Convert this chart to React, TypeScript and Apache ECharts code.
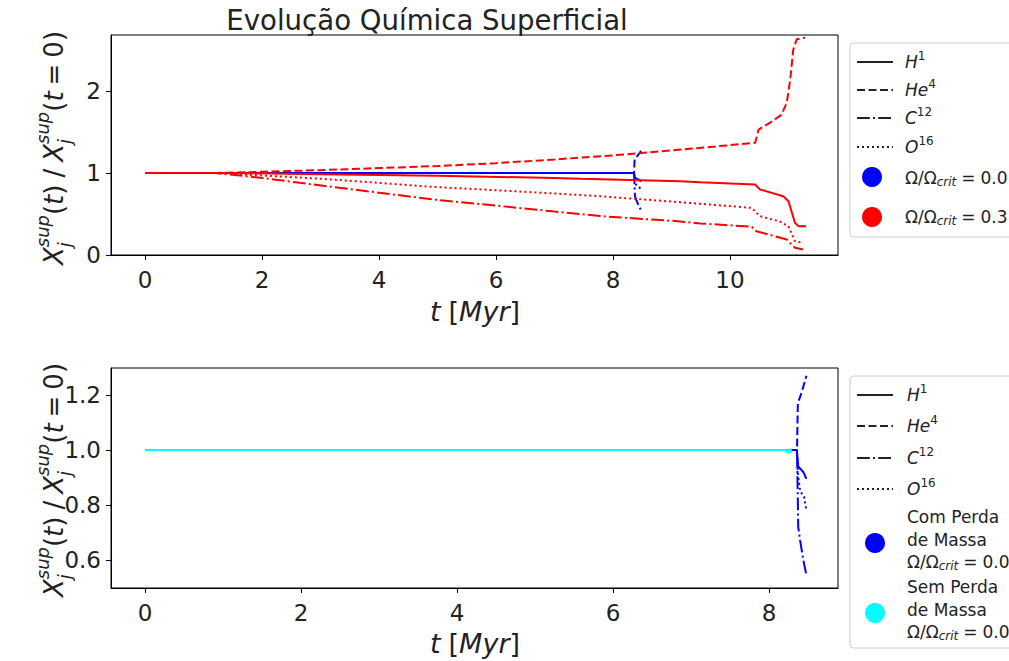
import React, { useEffect, useRef } from "react";
import * as echarts from "echarts";

// ---------- texts / ticks ----------
const TITLE = "Evolução Química Superficial";
const TOP_X_TICKS = [0, 2, 4, 6, 8, 10];
const TOP_Y_TICKS = [0, 1, 2];
const BOT_X_TICKS = [0, 2, 4, 6, 8];
const BOT_Y_TICKS = [0.6, 0.8, 1.0, 1.2];

// ---------- Ω/Ωcrit = 0.3 (red, top panel) ----------
const redH1T = [0, 1.5, 3, 5, 7, 7.44, 9.15, 9.49, 10.43, 10.51, 10.91, 11.0, 11.11, 11.17, 11.3];
const redH1V = [1, 1, 0.985, 0.965, 0.94, 0.93, 0.9, 0.888, 0.86, 0.8, 0.717, 0.656, 0.393, 0.352, 0.35];
const redHe4T = [0, 1.2, 2, 3, 4, 5, 6, 7, 8, 9, 10, 10.43, 10.49, 10.7, 10.88, 10.97, 11.03, 11.08, 11.14, 11.28];
const redHe4V = [1, 1, 1.015, 1.035, 1.06, 1.085, 1.12, 1.165, 1.215, 1.275, 1.34, 1.368, 1.53, 1.62, 1.71, 1.856, 2.14, 2.5, 2.63, 2.65];
const redC12T = [0, 1.2, 2, 2.65, 4, 4.93, 6.1, 7, 7.78, 8.5, 9.15, 9.49, 10.37, 10.45, 10.97, 11.11, 11.25];
const redC12V = [1, 1, 0.94, 0.88, 0.76, 0.677, 0.595, 0.53, 0.475, 0.44, 0.41, 0.385, 0.345, 0.29, 0.19, 0.088, 0.067];
const redO16T = [0, 1.2, 2, 3, 4, 4.93, 6, 7, 7.78, 9.15, 10.37, 10.51, 10.85, 11.0, 11.11, 11.25];
const redO16V = [1, 1, 0.97, 0.93, 0.88, 0.83, 0.79, 0.75, 0.717, 0.644, 0.575, 0.473, 0.41, 0.35, 0.168, 0.149];

// ---------- Ω/Ωcrit = 0.0 with mass loss (blue, both panels) ----------
const blueH1T = [0, 8.355, 8.375, 8.44, 8.48];
const blueH1V = [1, 1, 0.94, 0.92, 0.895];
const blueHe4T = [0, 8.36, 8.365, 8.37, 8.42, 8.48];
const blueHe4V = [1, 1, 1.09, 1.17, 1.21, 1.27];
const blueC12T = [0, 8.36, 8.375, 8.4, 8.44, 8.48];
const blueC12V = [1, 1, 0.72, 0.67, 0.6, 0.545];
const blueO16T = [0, 8.36, 8.37, 8.4, 8.45, 8.48];
const blueO16V = [1, 1, 0.915, 0.85, 0.83, 0.78];

// ---------- Ω/Ωcrit = 0.0 without mass loss (cyan, bottom panel) ----------
const cyanH1T = [0, 8.2, 8.23, 8.26, 8.29];
const cyanH1V = [1, 1, 0.992, 0.99, 0.995];
const cyanHe4T = [0, 8.2, 8.29];
const cyanHe4V = [1, 1, 1.002];
const cyanC12T = [0, 8.2, 8.29];
const cyanC12V = [1, 1, 0.998];
const cyanO16T = [0, 8.2, 8.29];
const cyanO16V = [1, 1, 0.999];

// ---------- styles ----------
const FF = '"DejaVu Sans"';
const TXT = "#222";
const RED = "#ff0000";
const BLUE = "#0000ff";
const CYAN = "#00ffff";
const DASH: any = {
  solid: "solid",
  dashed: [8, 3.5],
  dashdot: [12.8, 3.2, 2, 3.2],
  dotted: [2, 3],
};

function line(T: number[], V: number[], color: string, dash: any, idx: number, z: number) {
  return {
    type: "line",
    xAxisIndex: idx,
    yAxisIndex: idx,
    data: T.map((t, i) => [t, V[i]]),
    showSymbol: false,
    symbol: "none",
    silent: true,
    z,
    lineStyle: { color, width: 2, type: dash },
  };
}

// text measuring for composed math-like labels
let _ctx: CanvasRenderingContext2D | null = null;
function tw(text: string, font: string) {
  if (!_ctx) _ctx = document.createElement("canvas").getContext("2d");
  _ctx!.font = font;
  return _ctx!.measureText(text).width;
}
type P = { t?: string; f?: string; dy?: number; gap?: number };
type Item = P | P[];
function compose(items: Item[], color: string, center: boolean) {
  let u = 0;
  const out: any[] = [];
  for (const it of items) {
    const arr = Array.isArray(it) ? it : [it];
    let w = 0;
    for (const p of arr) {
      if (p.gap) {
        w = Math.max(w, p.gap);
        continue;
      }
      out.push({
        type: "text",
        x: u,
        y: p.dy || 0,
        silent: true,
        style: {
          text: p.t,
          font: p.f,
          fill: color,
          textAlign: "left",
          textVerticalAlign: "middle",
          align: "left",
          verticalAlign: "middle",
        },
      });
      w = Math.max(w, tw(p.t!, p.f!));
    }
    u += w;
  }
  if (center) out.forEach((o) => (o.x -= u / 2));
  return out;
}

const n = (s: number) => `${s}px ${FF}`;
const it = (s: number) => `italic ${s}px ${FF}`;

function yLabelItems(): Item[] {
  const M = 26;
  const S = 18;
  const stack: P[] = [
    { t: "j", f: it(S), dy: 10 },
    { t: "sup", f: it(S), dy: -12 },
  ];
  return [
    { t: "X", f: it(M) },
    stack,
    { t: "(", f: n(M) },
    { t: "t", f: it(M) },
    { t: ")", f: n(M) },
    { gap: 7 },
    { t: "/", f: n(M) },
    { gap: 7 },
    { t: "X", f: it(M) },
    stack,
    { t: "(", f: n(M) },
    { t: "t", f: it(M) },
    { gap: 6 },
    { t: "=", f: n(M) },
    { gap: 6 },
    { t: "0", f: n(M) },
    { t: ")", f: n(M) },
  ];
}
function xLabelItems(): Item[] {
  const M = 27;
  return [
    { t: "t", f: it(M) },
    { gap: 8 },
    { t: "[", f: n(M) },
    { t: "Myr", f: it(M) },
    { t: "]", f: n(M) },
  ];
}
const LS = 17;
function specLabel(base: string, sup: string): Item[] {
  return [
    { t: base, f: it(LS) },
    { t: sup, f: n(12), dy: -6 },
  ];
}
function omegaLabel(val: string): Item[] {
  return [
    { t: "Ω/Ω", f: n(LS) },
    { t: "crit", f: it(12), dy: 4 },
    { gap: 5 },
    { t: "=", f: n(LS) },
    { gap: 5 },
    { t: val, f: n(LS) },
  ];
}

function legendLine(x1: number, x2: number, y: number, dash: any) {
  return {
    type: "line",
    silent: true,
    shape: { x1, y1: y, x2, y2: y },
    style: { stroke: "#222", lineWidth: 2, lineDash: dash === "solid" ? null : dash },
  };
}
function textGroup(x: number, y: number, items: Item[], center = false, rotation = 0) {
  return { type: "group", x, y, rotation, silent: true, children: compose(items, TXT, center) };
}

function buildOption() {
  const lx1 = 857;
  const lx2 = 893;
  const tx = 905;
  const species: [string, string, any][] = [
    ["H", "1", DASH.solid],
    ["He", "4", DASH.dashed],
    ["C", "12", DASH.dashdot],
    ["O", "16", DASH.dotted],
  ];
  const topRows = [62, 90, 118, 147];
  const botRows = [395, 426, 458, 489];

  const graphic: any[] = [
    {
      type: "text",
      x: 427,
      y: 20,
      silent: true,
      style: {
        text: TITLE,
        font: n(27.6),
        fill: TXT,
        textAlign: "center",
        textVerticalAlign: "middle",
        align: "center",
        verticalAlign: "middle",
      },
    },
    textGroup(54, 148, yLabelItems(), true, Math.PI / 2),
    textGroup(54, 480, yLabelItems(), true, Math.PI / 2),
    textGroup(475, 311, xLabelItems(), true),
    textGroup(475, 643, xLabelItems(), true),
    // top legend
    {
      type: "rect",
      silent: true,
      shape: { x: 850, y: 43, width: 200, height: 194, r: 4 },
      style: { fill: "rgba(255,255,255,0.8)", stroke: "#cccccc", lineWidth: 1 },
    },
    // bottom legend
    {
      type: "rect",
      silent: true,
      shape: { x: 850, y: 376, width: 200, height: 272, r: 4 },
      style: { fill: "rgba(255,255,255,0.8)", stroke: "#cccccc", lineWidth: 1 },
    },
  ];
  species.forEach(([b, s, d], i) => {
    graphic.push(legendLine(lx1, lx2, topRows[i], d));
    graphic.push(textGroup(tx, topRows[i], specLabel(b, s)));
    graphic.push(legendLine(lx1, lx2, botRows[i], d));
    graphic.push(textGroup(tx + 2, botRows[i], specLabel(b, s)));
  });
  graphic.push({ type: "circle", silent: true, shape: { cx: 872, cy: 177, r: 10 }, style: { fill: BLUE } });
  graphic.push(textGroup(tx, 178, omegaLabel("0.0")));
  graphic.push({ type: "circle", silent: true, shape: { cx: 872, cy: 217, r: 10 }, style: { fill: RED } });
  graphic.push(textGroup(tx, 217, omegaLabel("0.3")));

  const multi = (y0: number, first: string) => [
    textGroup(tx + 2, y0, [{ t: first, f: n(LS) }]),
    textGroup(tx + 2, y0 + 22.5, [{ t: "de Massa", f: n(LS) }]),
    textGroup(tx + 2, y0 + 45, omegaLabel("0.0")),
  ];
  graphic.push(...multi(517, "Com Perda"));
  graphic.push({ type: "circle", silent: true, shape: { cx: 875, cy: 543, r: 10 }, style: { fill: BLUE } });
  graphic.push(...multi(587, "Sem Perda"));
  graphic.push({ type: "circle", silent: true, shape: { cx: 875, cy: 613, r: 10 }, style: { fill: CYAN } });

  const axisCommon = (ticks: number[], margin: number, fmt?: (v: number) => string) => ({
    type: "value",
    axisLine: { show: true, onZero: false, lineStyle: { color: "#000", width: 1 } },
    axisTick: { show: true, inside: false, length: 5, customValues: ticks, lineStyle: { color: "#000", width: 1 } },
    axisLabel: {
      customValues: ticks,
      fontSize: 23,
      fontFamily: "DejaVu Sans",
      color: TXT,
      margin,
      formatter: fmt ? (v: number) => fmt(v) : undefined,
    },
    splitLine: { show: false },
    minorTick: { show: false },
  });

  return {
    animation: false,
    backgroundColor: "#ffffff",
    grid: [
      { left: 111, top: 35, width: 727, height: 220, show: true, borderColor: "#000", borderWidth: 1, backgroundColor: "transparent", outerBoundsMode: "none", containLabel: false },
      { left: 111, top: 368, width: 727, height: 220, show: true, borderColor: "#000", borderWidth: 1, backgroundColor: "transparent", outerBoundsMode: "none", containLabel: false },
    ],
    xAxis: [
      { ...axisCommon(TOP_X_TICKS, 13, (v) => String(v)), gridIndex: 0, min: -0.581, max: 11.846 },
      { ...axisCommon(BOT_X_TICKS, 13, (v) => String(v)), gridIndex: 1, min: -0.436, max: 8.885 },
    ],
    yAxis: [
      { ...axisCommon(TOP_Y_TICKS, 10, (v) => String(v)), gridIndex: 0, min: 0, max: 2.683 },
      { ...axisCommon(BOT_Y_TICKS, 10, (v) => v.toFixed(1)), gridIndex: 1, min: 0.498, max: 1.298 },
    ],
    series: [
      line(blueH1T, blueH1V, BLUE, DASH.solid, 0, 2),
      line(blueHe4T, blueHe4V, BLUE, DASH.dashed, 0, 2),
      line(blueC12T, blueC12V, BLUE, DASH.dashdot, 0, 2),
      line(blueO16T, blueO16V, BLUE, DASH.dotted, 0, 2),
      line(redH1T, redH1V, RED, DASH.solid, 0, 3),
      line(redHe4T, redHe4V, RED, DASH.dashed, 0, 3),
      line(redC12T, redC12V, RED, DASH.dashdot, 0, 3),
      line(redO16T, redO16V, RED, DASH.dotted, 0, 3),
      line(blueH1T, blueH1V, BLUE, DASH.solid, 1, 2),
      line(blueHe4T, blueHe4V, BLUE, DASH.dashed, 1, 2),
      line(blueC12T, blueC12V, BLUE, DASH.dashdot, 1, 2),
      line(blueO16T, blueO16V, BLUE, DASH.dotted, 1, 2),
      line(cyanH1T, cyanH1V, CYAN, DASH.solid, 1, 3),
      line(cyanHe4T, cyanHe4V, CYAN, DASH.dashed, 1, 3),
      line(cyanC12T, cyanC12V, CYAN, DASH.dashdot, 1, 3),
      line(cyanO16T, cyanO16V, CYAN, DASH.dotted, 1, 3),
    ],
    graphic,
  };
}

export default function App() {
  const ref = useRef<HTMLDivElement>(null);
  useEffect(() => {
    const chart = echarts.init(ref.current!, null, { renderer: "svg" });
    chart.setOption(buildOption() as any);
    return () => chart.dispose();
  }, []);
  return (
    <div
      ref={ref}
      style={{ position: "fixed", left: 0, top: 0, width: 1009, height: 661, background: "#fff" }}
    />
  );
}
